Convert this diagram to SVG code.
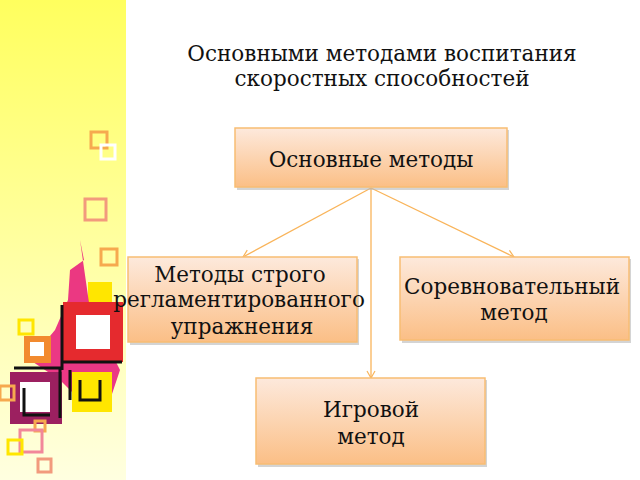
<svg xmlns="http://www.w3.org/2000/svg" width="640" height="480" viewBox="0 0 640 480">
<defs>
<linearGradient id="side" x1="0" y1="0" x2="0" y2="1"><stop offset="0" stop-color="#ffff5e"/><stop offset="1" stop-color="#ffffe0"/></linearGradient>
<linearGradient id="box" x1="0" y1="0" x2="0" y2="1"><stop offset="0" stop-color="#fde9dc"/><stop offset="1" stop-color="#fbbf86"/></linearGradient>
<marker id="ar" markerWidth="10" markerHeight="10" refX="8" refY="5" orient="auto" markerUnits="userSpaceOnUse"><path d="M1,1 L8,5 L1,9" fill="none" stroke="#f9b45a" stroke-width="1.2"/></marker>
<style>
.n{fill:url(#box);stroke:#f8bd73;stroke-width:1.5}
.sh{fill:#b8b8b8;opacity:0.6}
.t{font-family:"DejaVu Serif",serif;font-size:21.5px;fill:#111;text-anchor:middle}
.c{stroke:#f9b45a;stroke-width:1.3;fill:none;marker-end:url(#ar)}
.sq{fill:none;stroke-width:3}
</style>
</defs>
<rect width="640" height="480" fill="#fff"/>
<rect width="126" height="480" fill="url(#side)"/>
<g id="decor">
<rect class="sq" x="91" y="132" width="16" height="16" stroke="#f6a94f"/>
<rect class="sq" x="101" y="145" width="14" height="14" stroke="#fff"/>
<rect class="sq" x="85" y="199" width="21" height="21" stroke="#f29a7d"/>
<rect class="sq" x="101" y="249" width="16" height="16" stroke="#f6a94f"/>
<rect x="88" y="282" width="24" height="24" fill="#ffe600"/>
<path d="M80 240 L84 260 L70 270 L68 300 L55 330 L30 360 L60 380 L90 410 L110 400 L120 370 L90 310 Z" fill="#e8157a" opacity="0.85"/>
<rect x="63" y="302" width="60" height="60" fill="#e52a2e"/>
<rect x="76" y="315" width="34" height="34" fill="#fff"/>
<path d="M62 305 V370 M62 362 H122" stroke="#111" stroke-width="3" fill="none"/>
<rect x="24" y="336" width="27" height="27" fill="#f28a2e"/>
<rect x="30" y="342" width="14" height="14" fill="#fff"/>
<rect x="10" y="372" width="52" height="52" fill="#9c2060"/>
<rect x="20" y="382" width="30" height="30" fill="#fff"/>
<path d="M14 368 H60 V418 M24 388 V415 H50" stroke="#111" stroke-width="3" fill="none"/>
<rect x="72" y="372" width="40" height="40" fill="#ffe600"/>
<path d="M70 370 V400 M80 380 V400 H100 V380" stroke="#111" stroke-width="3" fill="none"/>
<rect class="sq" x="19" y="320" width="14" height="14" stroke="#ffe600"/>
<rect class="sq" x="0" y="386" width="14" height="14" stroke="#f6a94f"/>
<rect class="sq" x="35" y="421" width="10" height="10" stroke="#f6a94f"/>
<rect class="sq" x="20" y="430" width="22" height="22" stroke="#f2879a"/>
<rect class="sq" x="8" y="440" width="14" height="14" stroke="#ffe600"/>
<rect class="sq" x="38" y="459" width="13" height="13" stroke="#f29a7d"/>
</g>
<text class="t" x="382" y="61" font-size="22">Основными методами воспитания</text>
<text class="t" x="382" y="86" font-size="22">скоростных способностей</text>
<g id="connectors">
<line class="c" x1="371" y1="188" x2="243" y2="257"/>
<line class="c" x1="371" y1="188" x2="514" y2="257"/>
<line class="c" x1="371" y1="188" x2="371" y2="378"/>
</g>
<g id="n1"><rect class="sh" x="237" y="130" width="272" height="60"/><rect class="n" x="235" y="128" width="272" height="59"/><text class="t" x="371" y="167">Основные методы</text></g>
<g id="n2"><rect class="sh" x="130" y="259" width="229" height="86"/><rect class="n" x="128" y="257" width="229" height="85"/><text class="t" x="240" y="282">Методы строго</text><text class="t" x="239" y="307">регламентированного</text><text class="t" x="242" y="334">упражнения</text></g>
<g id="n3"><rect class="sh" x="402" y="259" width="229" height="84"/><rect class="n" x="400" y="257" width="229" height="83"/><text class="t" x="512" y="294">Соревновательный</text><text class="t" x="514" y="320">метод</text></g>
<g id="n4"><rect class="sh" x="258" y="380" width="229" height="87"/><rect class="n" x="256" y="378" width="229" height="86"/><text class="t" x="371" y="417">Игровой</text><text class="t" x="371" y="444">метод</text></g>
</svg>
